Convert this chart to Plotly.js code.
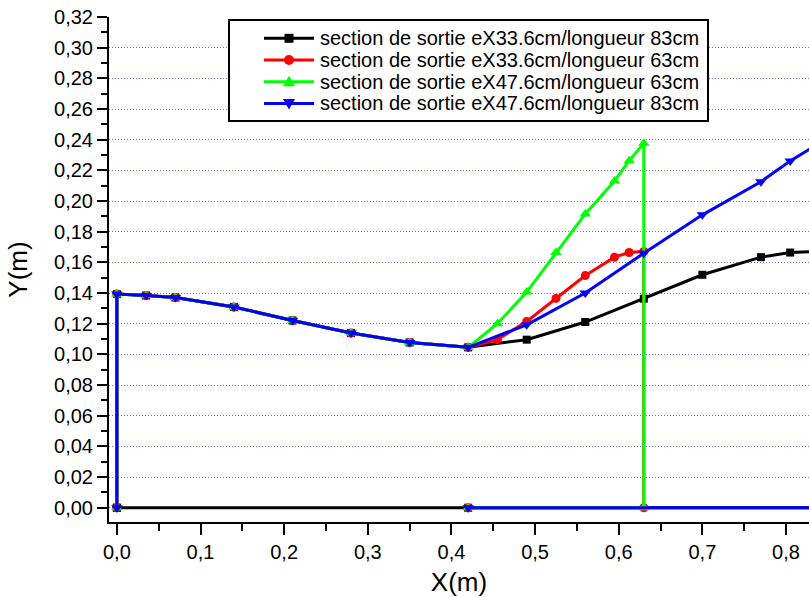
<!DOCTYPE html>
<html>
<head>
<meta charset="utf-8">
<script src="https://cdn.plot.ly/plotly-3.0.1.min.js"></script>
<style>html,body{margin:0;padding:0;background:#fff;}#chart{width:809px;height:597px;}</style>
</head>
<body>
<div id="chart"></div>
<script>
// Shared profile (all four series)
const commonX = [0, 0.035, 0.07, 0.14, 0.21, 0.28, 0.35, 0.42];
const commonY = [0.1393, 0.1384, 0.1371, 0.1309, 0.1221, 0.1139, 0.1078, 0.1046];

// 63 cm series (diverging part)
const x63 = [0.455, 0.49, 0.525, 0.56, 0.595, 0.6125, 0.63];
const redY = [0.1096, 0.1215, 0.1365, 0.1514, 0.1634, 0.1664, 0.1671];
const greenY = [0.1200, 0.1406, 0.1664, 0.1916, 0.2131, 0.2263, 0.2376];

// 83 cm series (diverging part)
const x83 = [0.49, 0.56, 0.63, 0.70, 0.77, 0.805, 0.84];
const blackY = [0.1096, 0.1211, 0.1363, 0.1519, 0.1634, 0.1664, 0.1672];
const blueY = [0.1193, 0.1400, 0.1660, 0.1910, 0.2126, 0.2261, 0.2378];

const names = [
  "section de sortie eX33.6cm/longueur 83cm",
  "section de sortie eX33.6cm/longueur 63cm",
  "section de sortie eX47.6cm/longueur 63cm",
  "section de sortie eX47.6cm/longueur 83cm"
];
const colors = ["#000000", "#ff0000", "#00ff00", "#0000ff"];
const symbols = ["square", "circle", "triangle-up", "triangle-down"];

function closedSeries(extraX, extraY, closeToOrigin) {
  const xEnd = extraX[extraX.length - 1];
  const xs = [0].concat(commonX, extraX, [xEnd, 0.42]);
  const ys = [0].concat(commonY, extraY, [0, 0]);
  if (closeToOrigin) { xs.push(0); ys.push(0); }
  return {x: xs, y: ys};
}

const seriesData = [
  closedSeries(x83, blackY, true),
  closedSeries(x63, redY, false),
  closedSeries(x63, greenY, false),
  closedSeries(x83, blueY, false)
];
const markerSizes = [8, 9, 10, 10];

const traces = seriesData.map((d, i) => ({
  x: d.x, y: d.y, name: names[i], type: "scatter", mode: "lines+markers",
  line: {color: colors[i], width: 3},
  marker: {color: colors[i], symbol: symbols[i], size: markerSizes[i]},
  showlegend: false
}));

// ---- custom legend (layout decoration in paper coordinates) ----
const W = 809, H = 597, ML = 109, MR = 0, MT = 17, MB = 75;
const PW = W - ML - MR, PH = H - MT - MB;
const px = v => (v - ML) / PW;
const py = v => (H - MB - v) / PH;

const shapes = [];
const annotations = [];
shapes.push({type: "rect", xref: "paper", yref: "paper",
  x0: px(229), x1: px(708), y0: py(121), y1: py(20),
  line: {color: "#000", width: 2}, fillcolor: "#fff", layer: "above"});
const rowY = [38.3, 60, 81.7, 103.4];
names.forEach((n, i) => {
  const cy = rowY[i];
  shapes.push({type: "line", xref: "paper", yref: "paper",
    x0: px(264), x1: px(314), y0: py(cy), y1: py(cy),
    line: {color: colors[i], width: 3}, layer: "above"});
  const cx = 289;
  let s;
  if (symbols[i] === "square") {
    s = {type: "rect", x0: px(cx - 4.5), x1: px(cx + 4.5), y0: py(cy + 4.5), y1: py(cy - 4.5)};
  } else if (symbols[i] === "circle") {
    s = {type: "circle", x0: px(cx - 5), x1: px(cx + 5), y0: py(cy + 5), y1: py(cy - 5)};
  } else if (symbols[i] === "triangle-up") {
    s = {type: "path", path: `M ${px(cx - 6)} ${py(cy + 4.5)} L ${px(cx + 6)} ${py(cy + 4.5)} L ${px(cx)} ${py(cy - 6)} Z`};
  } else {
    s = {type: "path", path: `M ${px(cx - 6)} ${py(cy - 4.5)} L ${px(cx + 6)} ${py(cy - 4.5)} L ${px(cx)} ${py(cy + 6)} Z`};
  }
  Object.assign(s, {xref: "paper", yref: "paper", fillcolor: colors[i], line: {color: colors[i], width: 0}, layer: "above"});
  shapes.push(s);
  annotations.push({xref: "paper", yref: "paper", x: px(318), y: py(cy),
    xanchor: "left", yanchor: "middle", showarrow: false, text: n,
    font: {family: "Liberation Sans, Arial, sans-serif", size: 20, color: "#000"}});
});

const tickFont = {family: "Liberation Sans, Arial, sans-serif", size: 20, color: "#000"};

const layout = {
  width: W, height: H,
  margin: {l: ML, r: MR, t: MT, b: MB},
  paper_bgcolor: "#fff", plot_bgcolor: "#fff",
  separators: ",.",
  showlegend: false,
  font: {family: "Liberation Sans, Arial, sans-serif", color: "#000"},
  xaxis: {
    range: [-0.0094, 0.8275], dtick: 0.1, tick0: 0, tickformat: ".1f",
    showgrid: false, zeroline: false, showline: true, linecolor: "#000", linewidth: 2,
    ticks: "outside", ticklen: 11, tickwidth: 2, tickcolor: "#000",
    minor: {dtick: 0.05, tick0: 0, ticks: "outside", ticklen: 7, tickwidth: 2, tickcolor: "#000", showgrid: false},
    tickfont: tickFont, automargin: false,
    title: {text: "X(m)", font: {family: "Liberation Sans, Arial, sans-serif", size: 26, color: "#000"}, standoff: 15}
  },
  yaxis: {
    range: [-0.0093, 0.32], dtick: 0.02, tick0: 0, tickformat: ".2f",
    showgrid: true, gridcolor: "#7070ff", griddash: "1px,2px", gridwidth: 1,
    zeroline: false, showline: true, linecolor: "#000", linewidth: 2,
    ticks: "outside", ticklen: 10, tickwidth: 2, tickcolor: "#000",
    minor: {dtick: 0.01, tick0: 0, ticks: "outside", ticklen: 6, tickwidth: 2, tickcolor: "#000", showgrid: false},
    tickfont: tickFont, automargin: false,
    title: {text: "Y(m)", font: {family: "Liberation Sans, Arial, sans-serif", size: 26, color: "#000"}, standoff: 19}
  },
  shapes: shapes,
  annotations: annotations
};

Plotly.newPlot("chart", traces, layout, {displayModeBar: false, staticPlot: true});
</script>
</body>
</html>
